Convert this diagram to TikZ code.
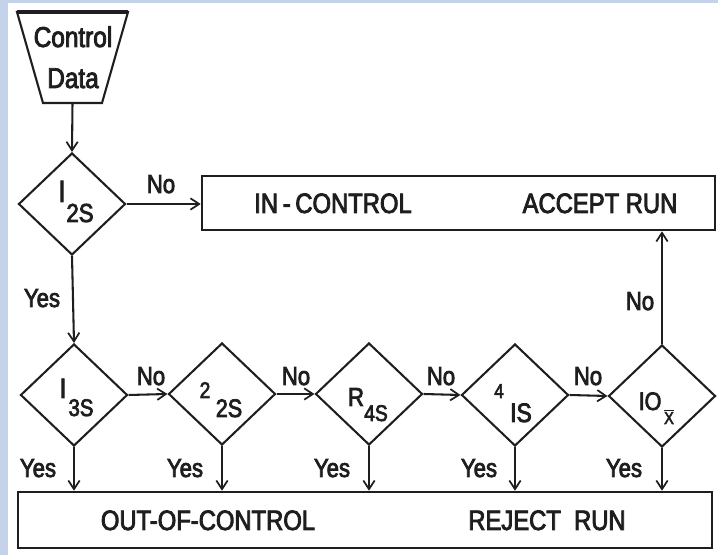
\documentclass[tikz,border=0pt]{standalone}
\usepackage{fontspec}
\setmainfont{Liberation Sans}[FakeStretch=0.85,FakeBold=3]
\usetikzlibrary{shapes.geometric,arrows.meta}
\definecolor{strip}{RGB}{196,210,234}
\definecolor{ink}{RGB}{30,30,30}
\newcommand\fsz[1]{\fontsize{#1}{#1}\selectfont}
\begin{document}
\begin{tikzpicture}[x=0.75pt,y=-0.75pt,
  ln/.style={line width=1.55pt, draw=ink},
  arr/.style={ln, -{Straight Barb[length=6.5pt,width=8.5pt,line width=1.3pt]}},
  dec/.style={diamond, draw=ink, line width=1.55pt, minimum width=80.25pt, minimum height=76.5pt, inner sep=0pt},
  bx/.style={rectangle, draw=ink, line width=1.9pt, inner sep=0pt},
  txt/.style={inner sep=0pt, anchor=base, text=ink},
  lbl/.style={txt, font=\fsz{19.5}},
  btxt/.style={txt, font=\fsz{21}},
]
\fill[strip] (0,0) rectangle (8,555);
\fill[strip] (0,0) rectangle (718,3);
\useasboundingbox (0,0) rectangle (718,555);

% control data trapezoid
\draw[ln] (17,12) -- (128,12) -- (102,103) -- (43,103) -- cycle;
\draw[ink, line width=2.6pt] (17,12) -- (128,12);
\node[inner sep=0pt, minimum width=60pt, minimum height=68.25pt] (cd) at (72.5,57.5) {};
\node[txt, font=\fsz{21.5}] (cdt1) at (73,47) {Control};
\node[txt, font=\fsz{21.5}] (cdt2) at (73,88) {Data};

% boxes
\node[bx, minimum width=384.75pt, minimum height=40.5pt] (inbox) at (458.5,203) {};
\node[btxt] (int) at (333,213) {IN\,-\,CONTROL};
\node[btxt] (acc) at (600,213) {ACCEPT RUN};
\node[bx, minimum width=520.5pt, minimum height=42pt] (outbox) at (365,520) {};
\node[btxt] (oot) at (208,530) {OUT-OF-CONTROL};
\node[btxt] (rej) at (547,530) {REJECT\ \ RUN};

% decisions
\node[dec] (d1) at (72,204) {};
\node[dec] (d2) at (74,395) {};
\node[dec] (d3) at (222,394) {};
\node[dec] (d4) at (369,394) {};
\node[dec] (d5) at (515,395) {};
\node[dec] (d6) at (662,396) {};

% decision labels
\node[txt, font=\fsz{23}] (l1a) at (62,202) {I};
\node[txt, font=\fsz{19.5}] (l1b) at (80,222) {2S};
\node[txt, font=\fsz{21}] (l2a) at (63,398) {I};
\node[txt, font=\fsz{18}] (l2b) at (81,416) {3S};
\node[txt, font=\fsz{17}] (l3a) at (205,398) {2};
\node[txt, font=\fsz{19}] (l3b) at (229,417) {2S};
\node[txt, font=\fsz{19.5}] (l4a) at (356,406) {R};
\node[txt, font=\fsz{17}] (l4b) at (376,421) {4S};
\node[txt, font=\fsz{15}] (l5a) at (499,398) {4};
\node[txt, font=\fsz{20}] (l5b) at (521,422) {IS};
\node[txt, font=\fsz{19}] (l6a) at (650,410) {IO};
\node[txt, font=\fsz{13}] (l6b) at (669,424) {$\overline{\hbox{X}}$};

% connectors
\draw[arr] (cd.south) -- (d1.north);
\draw[arr] (d1.east) -- (d1.east -| inbox.west);
\draw[arr] (d1.south) -- (d2.north);
\draw[arr] (d2.east) -- (d3.west);
\draw[arr] (d3.east) -- (d4.west);
\draw[arr] (d4.east) -- (d5.west);
\draw[arr] (d5.east) -- (d6.west);
\draw[arr] (d6.north) -- (d6.north |- inbox.south);
\foreach \d in {d2,d3,d4,d5,d6}
  \draw[arr] (\d.south) -- (\d.south |- outbox.north);

% yes / no labels
\node[lbl] (n1) at (161,193) {No};
\node[lbl] (y1) at (42,307) {Yes};
\node[lbl] (n2) at (151,385) {No};
\node[lbl] (n3) at (296,385) {No};
\node[lbl] (n4) at (441,385) {No};
\node[lbl] (n5) at (588,385) {No};
\node[lbl] (n6) at (640,310) {No};
\node[lbl] (y2) at (38,477) {Yes};
\node[lbl] (y3) at (185,477) {Yes};
\node[lbl] (y4) at (332,477) {Yes};
\node[lbl] (y5) at (479,477) {Yes};
\node[lbl] (y6) at (624,477) {Yes};
\end{tikzpicture}
\end{document}
